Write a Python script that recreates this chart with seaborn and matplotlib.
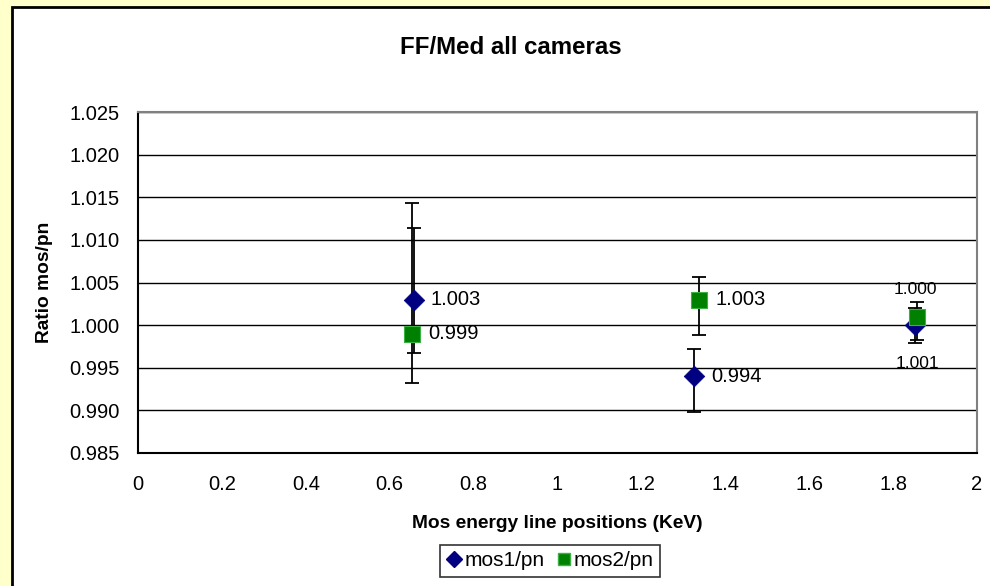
import matplotlib
matplotlib.use("Agg")
import matplotlib.pyplot as plt
from matplotlib.patches import Rectangle
from matplotlib.lines import Line2D
import numpy as np
import pandas as pd
import seaborn as sns

# Energy line positions (KeV) and flux ratios per camera pair
series_names = ["mos1/pn", "mos2/pn"]
mos1_x = [0.657, 1.326, 1.852]
mos1_ratio = [1.003, 0.994, 1.000]
mos1_low = [0.9967, 0.9898, 0.9979]
mos1_high = [1.0114, 0.9972, 1.0020]
mos2_x = [0.652, 1.338, 1.857]
mos2_ratio = [0.999, 1.003, 1.001]
mos2_low = [0.9932, 0.9988, 0.9983]
mos2_high = [1.0143, 1.0056, 1.0027]

y_ticks = [0.985, 0.990, 0.995, 1.000, 1.005, 1.010, 1.015, 1.020, 1.025]
x_ticks = [0, 0.2, 0.4, 0.6, 0.8, 1, 1.2, 1.4, 1.6, 1.8, 2]
x_tick_labels = ["0", "0.2", "0.4", "0.6", "0.8", "1", "1.2", "1.4", "1.6", "1.8", "2"]

df = pd.DataFrame({
    "x": mos1_x + mos2_x,
    "ratio": mos1_ratio + mos2_ratio,
    "low": mos1_low + mos2_low,
    "high": mos1_high + mos2_high,
    "series": [series_names[0]] * 3 + [series_names[1]] * 3,
})

sns.set_style("white")
plt.rcParams["font.family"] = ["Liberation Sans", "DejaVu Sans"]
plt.rcParams.update({"text.color": "black", "axes.labelcolor": "black",
                     "xtick.color": "black", "ytick.color": "black"})

W, H = 990, 586
fig = plt.figure(figsize=(W / 100, H / 100), dpi=100, facecolor="#FFFFCC")

# white chart panel with a dark frame
fig.patches.append(Rectangle((12 / W, -0.05), 1.2, 1.05 - 7 / H,
                             transform=fig.transFigure, facecolor="white",
                             edgecolor="black", lw=2.0, zorder=-5))

ax = fig.add_axes([138 / W, 1 - 453 / H, (977 - 138) / W, (453 - 112) / H])
ax.set_zorder(2)
ax.set_facecolor("white")

colors = {"mos1/pn": "#000080", "mos2/pn": "#008000"}

# error bars
for name, sub in df.groupby("series"):
    yerr = np.vstack([sub["ratio"] - sub["low"], sub["high"] - sub["ratio"]])
    ax.errorbar(sub["x"], sub["ratio"], yerr=yerr, fmt="none", ecolor="black",
                elinewidth=1.3, capsize=5, capthick=1.3, zorder=3)

sns.scatterplot(data=df[df["series"] == "mos1/pn"], x="x", y="ratio",
                marker="D", color=colors["mos1/pn"], s=110, edgecolor="#000080",
                linewidth=0.5, ax=ax, legend=False, zorder=4)
sns.scatterplot(data=df[df["series"] == "mos2/pn"], x="x", y="ratio",
                marker="s", color=colors["mos2/pn"], s=120, edgecolor="#3CB043",
                linewidth=0.8, ax=ax, legend=False, zorder=5)

# value labels
fs = 14.5
label_offsets = {
    ("mos1/pn", 0): (12, 0, "left"),
    ("mos1/pn", 1): (12, 0, "left"),
    ("mos1/pn", 2): (0, 26, "center"),
    ("mos2/pn", 0): (12, 0, "left"),
    ("mos2/pn", 1): (12, 0, "left"),
    ("mos2/pn", 2): (0, -34, "center"),
}
for name, xs, ys in [("mos1/pn", mos1_x, mos1_ratio), ("mos2/pn", mos2_x, mos2_ratio)]:
    for i, (xv, yv) in enumerate(zip(xs, ys)):
        dx, dy, ha = label_offsets[(name, i)]
        ax.annotate(f"{yv:.3f}", (xv, yv), xytext=(dx, dy), textcoords="offset points",
                    ha=ha, va="center", fontsize=fs if i < 2 else 12.5,
                    color="black", zorder=6)

ax.set_xlim(0, 2)
ax.set_ylim(0.985, 1.025)
ax.set_xticks(x_ticks)
ax.set_xticklabels(x_tick_labels)
ax.set_yticks(y_ticks)
ax.set_yticklabels([f"{v:.3f}" for v in y_ticks])
ax.tick_params(axis="both", direction="out", length=5, width=1.2, color="black",
               labelsize=fs, pad=8)
ax.tick_params(axis="x", pad=11)
ax.grid(axis="y", color="black", lw=1.0)
ax.grid(axis="x", visible=False)
ax.set_axisbelow(True)

for side in ["left", "bottom"]:
    ax.spines[side].set_color("black")
    ax.spines[side].set_linewidth(1.5)
for side in ["top", "right"]:
    ax.spines[side].set_color("#808080")
    ax.spines[side].set_linewidth(1.5)
    ax.spines[side].set_visible(True)

ax.set_xlabel("Mos energy line positions (KeV)", fontsize=13.8, fontweight="bold", labelpad=15)
ax.set_ylabel("Ratio mos/pn", fontsize=13.8, fontweight="bold", labelpad=12)

fig.text(511 / W, 1 - 47 / H, "FF/Med all cameras", ha="center", va="center",
         fontsize=17.3, fontweight="bold")

handles = [
    Line2D([], [], marker="D", color="none", markerfacecolor="#000080",
           markeredgecolor="#000080", markersize=8),
    Line2D([], [], marker="s", color="none", markerfacecolor="#008000",
           markeredgecolor="#3CB043", markersize=9),
]
leg = fig.legend(handles, series_names, loc="center", bbox_to_anchor=(550 / W, 1 - 561 / H),
                 ncol=2, frameon=True, fancybox=False, fontsize=15,
                 handlelength=0.8, handletextpad=0.1, columnspacing=0.5,
                 borderpad=0.3, borderaxespad=0)
leg.get_frame().set_edgecolor("black")
leg.get_frame().set_linewidth(1.2)

fig.savefig("out.png", dpi=100, facecolor=fig.get_facecolor())
